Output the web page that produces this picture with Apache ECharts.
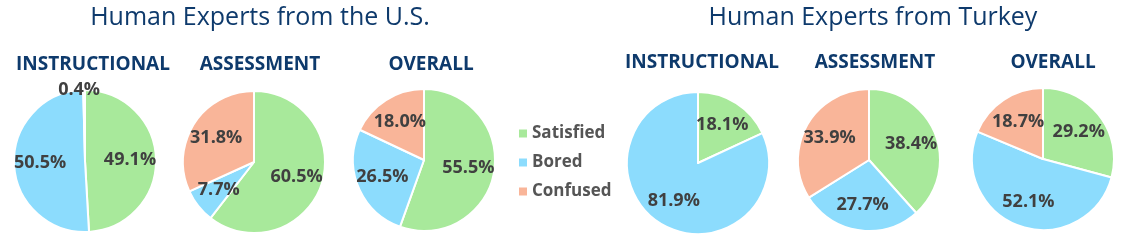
<!DOCTYPE html>
<html><head><meta charset="utf-8">
<script src="https://cdn.jsdelivr.net/npm/echarts@6/dist/echarts.min.js"></script>
<style>html,body{margin:0;padding:0;background:#fff}#c{width:1124px;height:243px}</style>
</head><body><div id="c"></div>
<script>
const categories = ['Satisfied', 'Bored', 'Confused'];
const groupTitles = ['Human Experts from the U.S.', 'Human Experts from Turkey'];
const pieTitles = ['INSTRUCTIONAL', 'ASSESSMENT', 'OVERALL'];
const usInstructional = [49.1, 50.5, 0.4];
const usAssessment = [60.5, 7.7, 31.8];
const usOverall = [55.5, 26.5, 18.0];
const trInstructional = [18.1, 81.9, 0];
const trAssessment = [38.4, 27.7, 33.9];
const trOverall = [29.2, 52.1, 18.7];
const colors = ['#a8e99b', '#8cdcfd', '#f9b599'];

const pies = [usInstructional, usAssessment, usOverall, trInstructional, trAssessment, trOverall];
const centers = [[85, 161], [254, 162], [424, 160], [698, 163], [869, 160], [1043, 159]];
const subTitleX = [88, 255, 426, 697, 870, 1048];
const subTitleY = [50, 50, 50, 48, 48, 48];
const radius = 71;
const labelInner = 13;
const titleFont = 'Open Sans';

const title = [
  {text: groupTitles[0], left: 255, top: 0, textAlign: 'center',
   textStyle: {fontFamily: titleFont, fontWeight: 'normal', fontSize: 25, color: '#0e3a6c'}},
  {text: groupTitles[1], left: 868, top: 0, textAlign: 'center',
   textStyle: {fontFamily: titleFont, fontWeight: 'normal', fontSize: 25, color: '#0e3a6c'}}
];
pies.forEach((p, i) => {
  title.push({text: pieTitles[i % 3], left: subTitleX[i], top: subTitleY[i], textAlign: 'center',
    textStyle: {fontFamily: titleFont, fontWeight: 'bold', fontSize: 19, color: '#0e3a6c'}});
});

const series = [];
// visible slices
pies.forEach((vals, i) => {
  series.push({
    type: 'pie', center: centers[i], radius: [0, radius], startAngle: 90, clockwise: true,
    silent: true, animation: false,
    itemStyle: {borderColor: '#fff', borderWidth: 2},
    label: {show: false}, labelLine: {show: false},
    data: vals.map((v, k) => ({name: categories[k], value: v, itemStyle: {color: colors[k]}}))
  });
});
// label layer (transparent ring so labels sit further out, like the original)
pies.forEach((vals, i) => {
  series.push({
    type: 'pie', center: centers[i], radius: [labelInner, radius], startAngle: 90, clockwise: true,
    silent: true, animation: false, avoidLabelOverlap: false,
    labelLayout: {hideOverlap: false, align: 'center'},
    itemStyle: {color: 'rgba(0,0,0,0)', borderWidth: 0},
    label: {position: 'inside', fontFamily: titleFont, fontWeight: 'bold', fontSize: 18, color: '#404040',
      formatter: p => p.value.toFixed(1) + '%'},
    labelLine: {show: false},
    data: vals.map((v, k) => {
      const d = {name: categories[k], value: v};
      if (v === 0) d.label = {show: false};
      else if (v < 2) {
        d.label = {position: 'outside', distance: 2};
        d.labelLine = {show: false, length: 0, length2: 0};
      }
      return d;
    })
  });
});

const chart = echarts.init(document.getElementById('c'), null, {renderer: 'canvas'});
chart.setOption({
  animation: false,
  title: title,
  legend: {
    orient: 'vertical', left: 512, top: 120, itemWidth: 10, itemHeight: 10, itemGap: 12,
    icon: 'rect', data: categories.map((c, k) => ({name: c, itemStyle: {color: colors[k]}})), selectedMode: false,
    textStyle: {fontFamily: titleFont, fontWeight: 'bold', fontSize: 17, color: '#555555', padding: [0, 0, 0, -1]}
  },
  series: series
});
</script></body></html>
